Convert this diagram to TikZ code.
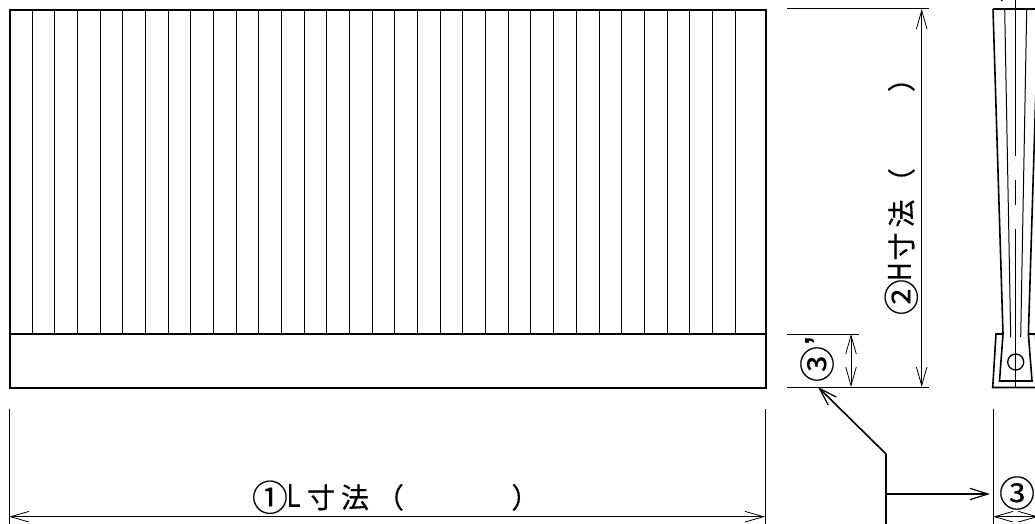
\documentclass[tikz,border=0pt]{standalone}
\usepackage{fontspec}
\setmainfont[FakeBold=0.35]{Noto Sans CJK JP}
\newfontfamily\circfont[FakeBold=0.1]{Noto Sans CJK JP}
\newfontfamily\latinfont[FakeStretch=0.72,FakeBold=0.2]{Liberation Sans}
\newfontfamily\primefont{Liberation Sans}
\usetikzlibrary{arrows.meta}
\newcommand{\gl}[2]{\makebox[0pt][l]{\hspace{#1\dimexpr0.75pt\relax}\makebox[0pt][c]{#2}}}
\newcommand{\bigc}[1]{\raisebox{-2.2pt}{\circfont\fontsize{27pt}{29pt}\selectfont #1}}
\newcommand{\lat}[1]{\raisebox{0.8pt}{\latinfont\fontsize{25pt}{27pt}\selectfont #1}}
\tikzset{
  outline/.style={line width=1.4pt,black},
  sectionline/.style={line width=1.2pt,black},
  thin line/.style={line width=0.75pt,black},
  dim/.style={line width=0.75pt,black,{Straight Barb[length=14pt,width=8pt,line width=0.6pt]}-{Straight Barb[length=14pt,width=8pt,line width=0.6pt]}},
  leader/.style={line width=1.2pt,black},
  leaderarrow/.style={line width=1.2pt,black,-{Straight Barb[length=13.5pt,width=8.5pt,line width=0.9pt]}},
  dimtext/.style={inner sep=0pt,font=\fontsize{21pt}{23pt}\selectfont,anchor=base west},
  circtext/.style={inner sep=0pt,font=\circfont\fontsize{27pt}{29pt}\selectfont},
}
\begin{document}
\begin{tikzpicture}[x=0.75pt,y=-0.75pt]
\useasboundingbox (0,0) rectangle (1035,524);
\clip (0,0) rectangle (1035,524);
% front view
\node[draw,outline,minimum width=567pt,minimum height=283.5pt,inner sep=0pt,anchor=north west] (panel) at (9,9) {};
\coordinate (baseL) at (9,334);
\coordinate (baseR) at (765,334);
\draw[outline] (baseL) -- (baseR);
\foreach \k in {0,...,31}{
  \draw[thin line] ({32+22.68*\k},9) -- ({32+22.68*\k},334);
}
% extension lines
\coordinate (hT1) at (787,9); \coordinate (hT2) at (929,9);
\coordinate (hB1) at (787,387); \coordinate (hB2) at (929,387);
\coordinate (sT1) at (787,334); \coordinate (sT2) at (859,334);
\draw[thin line] (hT1) -- (hT2);
\draw[thin line] (hB1) -- (hB2);
\draw[thin line] (sT1) -- (sT2);
\coordinate (lA) at (9,409); \coordinate (lAe) at (9,524);
\coordinate (lB) at (765,409); \coordinate (lBe) at (765,524);
\coordinate (tA) at (993,409); \coordinate (tAe) at (993,524);
\draw[thin line] (lA) -- (lAe);
\draw[thin line] (lB) -- (lBe);
\draw[thin line] (tA) -- (tAe);
% dimensions
\coordinate (d1a) at (9,516.7); \coordinate (d1b) at (765,516.7);
\draw[dim] (d1a) -- (d1b);
\coordinate (d2a) at (921.7,9); \coordinate (d2b) at (921.7,387);
\draw[dim] (d2a) -- (d2b);
\coordinate (d3a) at (851,334); \coordinate (d3b) at (851,387);
\draw[dim] (d3a) -- (d3b);
\coordinate (d4a) at (993,516.7); \coordinate (d4b) at (1038.4,516.7);
\draw[dim] (d4a) -- (d4b);
% section view
\draw[sectionline] (993,9) -- (1003,334) -- (999.5,381) -- (1032,381) -- (1028.4,334) -- (1038.4,9);
\draw[sectionline] (993,9) -- (1038.4,9);
\draw[sectionline] (1003,334) -- (996,334) -- (992.7,387.5) -- (1038.7,387.5) -- (1035.4,334) -- (1028.4,334);
\draw[thin line] (1004.7,9) -- (1010.7,337);
\draw[thin line] (1026.7,9) -- (1020.7,337);
\draw[thin line] (1015.7,0) -- (1015.7,156);
\draw[thin line] (1015.7,180) -- (1015.7,205);
\draw[thin line] (1015.7,229) -- (1015.7,387);
\draw[thin line] (1001,0) -- (1002.5,1);
\node[draw,circle,line width=1pt,minimum size=12pt,inner sep=0pt] (hole) at (1015.7,362) {};
% leaders
\coordinate (kink) at (886,454);
\coordinate (branch) at (886,494);
\coordinate (leadEnd) at (886,524);
\coordinate (tipA) at (818,387);
\coordinate (tipB) at (990,494);
\draw[leader] (leadEnd) -- (kink);
\draw[leaderarrow] (kink) -- (tipA);
\draw[leaderarrow] (branch) -- (tipB);
% texts
\node[dimtext] (labelL) at (253,508) {\gl{16}{\bigc{①}}\gl{40}{\lat{L}}\gl{67}{寸}\gl{101}{法}\gl{136}{（}\gl{271.5}{）}};
\node[dimtext,rotate=90] (labelH) at (912,313) {\gl{15}{\bigc{②}}\gl{40.5}{\lat{H}}\gl{65.5}{寸}\gl{98.5}{法}\gl{130}{（}\gl{234}{）}};
\node[circtext] (label3) at (1017,493) {③};
\node[circtext,rotate=90] (label3p) at (817,364) {③};
\node[inner sep=0pt,font=\fontsize{24pt}{26pt}\primefont\bfseries,rotate=90] (prime) at (816,341) {’};
\end{tikzpicture}
\end{document}
